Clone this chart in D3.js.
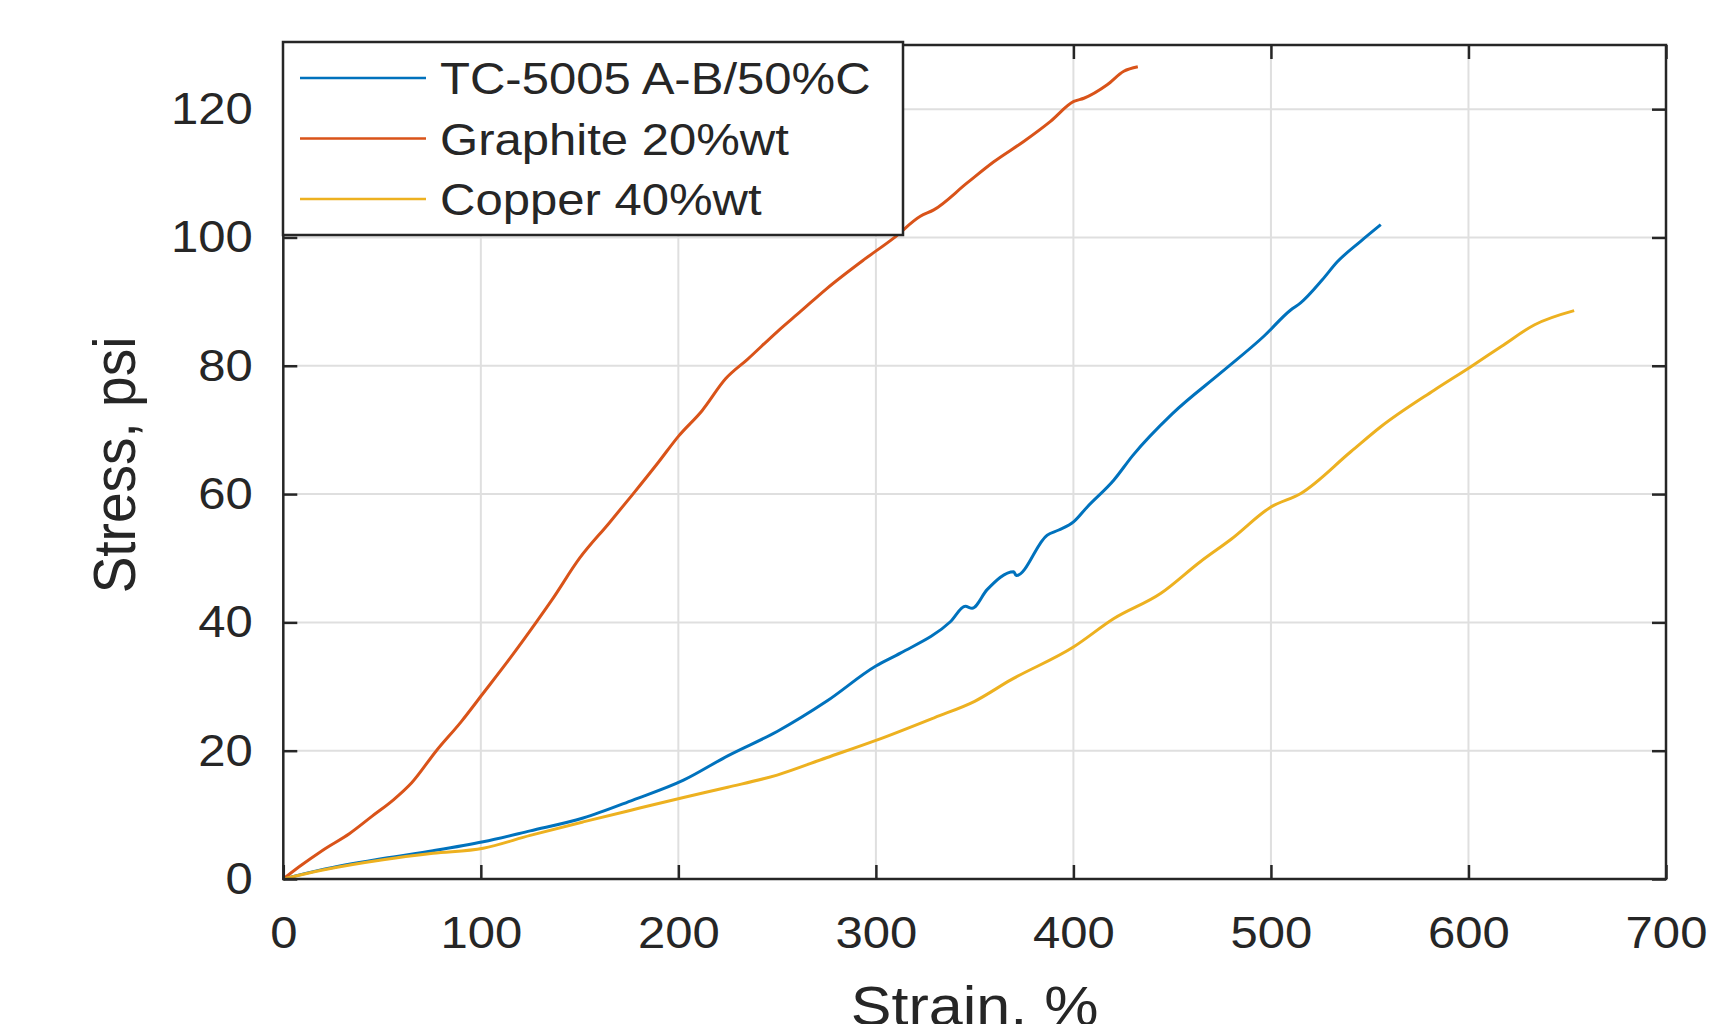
<!DOCTYPE html>
<meta charset="UTF-8">
<style>
  body { margin: 0; background: #fff; }
  text { font-family: "Liberation Sans", Arial, sans-serif; fill: #262626; }
</style>
<svg width="1717" height="1024"></svg>
<script src="https://d3js.org/d3.v7.min.js"></script>
<script>
  // strain (%) / stress (psi)
  const tcStrain = [0, 20, 50.5, 75.8, 101.2, 125, 151.8, 177, 202.6, 225, 250, 275, 300, 312.4, 337.7, 345.3, 348.7, 356.3, 369.8, 371, 386.7, 392.6, 400.2, 407, 420.5, 430, 450, 475, 496.4, 510, 515, 526, 533.6, 545.4, 555.6];
  const tcStress = [0, 1.5, 3.2, 4.4, 5.8, 7.5, 9.5, 12.3, 15.4, 19.2, 23, 27.7, 33.2, 35.2, 40.1, 42.5, 42.2, 45.1, 47.9, 47.3, 53.6, 54.4, 55.7, 58, 62.2, 66, 72.5, 79, 84.6, 88.7, 89.8, 93.4, 96.2, 99.4, 102];

  const grStrain = [0, 8, 20, 33.6, 45, 55.6, 65, 77.5, 90, 100.8, 115, 128, 136, 150, 165, 177, 190, 200, 212, 224, 235, 250, 262, 275, 293.8, 309, 322.5, 329.3, 346.2, 359.7, 375, 388.4, 400.2, 405.3, 417.1, 425.5, 432.6];
  const grStress = [0, 1.9, 4.5, 7.1, 9.8, 12.3, 15, 20, 24.5, 28.8, 34.5, 40, 43.5, 50, 55.5, 60, 65, 69, 73, 78, 81, 85.3, 88.5, 92, 96.5, 99.9, 103.3, 104.3, 108.5, 111.8, 115, 118.1, 121.2, 121.7, 123.8, 125.9, 126.6];

  const cuStrain = [0, 20, 50.5, 75.8, 101.2, 125, 151.8, 177, 202.6, 225, 250, 275, 300, 330, 350, 368.1, 400.2, 420.5, 444.1, 464.4, 480, 500, 515.1, 540.4, 555.6, 582.6, 601.4, 616.6, 633.5, 653.5];
  const cuStress = [0, 1.4, 3.0, 4.0, 4.8, 6.8, 8.9, 10.8, 12.7, 14.3, 16.2, 18.9, 21.6, 25.2, 27.7, 31, 36.2, 40.6, 44.5, 49.5, 53, 58, 60.1, 66.6, 70.5, 76.2, 79.9, 83, 86.4, 88.6];

  const seriesNames = ['TC-5005 A-B/50%C', 'Graphite 20%wt', 'Copper 40%wt'];
  const seriesColors = ['#0072BD', '#D95319', '#EDB120'];
  const xTicks = [0, 100, 200, 300, 400, 500, 600, 700];
  const yTicks = [0, 20, 40, 60, 80, 100, 120];

  const series = [
    d3.zip(tcStrain, tcStress),
    d3.zip(grStrain, grStress),
    d3.zip(cuStrain, cuStress),
  ];

  const LEFT = 283.3, TOP = 45, RIGHT = 1666, BOTTOM = 879;
  const STRETCH = 1.09;  // text in the picture is a bit wide

  const svg = d3.select('svg');
  const x = d3.scaleLinear().domain([0, 700]).range([LEFT, RIGHT]);
  const y = d3.scaleLinear().domain([0, 130]).range([BOTTOM, TOP]);

  // grid
  svg.append('g')
    .selectAll('line.gx')
    .data(xTicks.slice(1, -1))
    .join('line')
      .attr('x1', d => x(d)).attr('x2', d => x(d))
      .attr('y1', TOP).attr('y2', BOTTOM)
      .attr('stroke', '#dfdfdf').attr('stroke-width', 2);
  svg.append('g')
    .selectAll('line.gy')
    .data(yTicks.slice(1))
    .join('line')
      .attr('x1', LEFT).attr('x2', RIGHT)
      .attr('y1', d => y(d)).attr('y2', d => y(d))
      .attr('stroke', '#dfdfdf').attr('stroke-width', 2);

  // series
  const line = d3.line()
    .x(d => x(d[0]))
    .y(d => y(d[1]))
    .curve(d3.curveMonotoneX);
  svg.append('g')
    .selectAll('path')
    .data(series)
    .join('path')
      .attr('d', line)
      .attr('fill', 'none')
      .attr('stroke', (_, i) => seriesColors[i])
      .attr('stroke-width', 3)
      .attr('stroke-linejoin', 'round');

  // axes, ticks inward on all four sides
  const styleAxis = (g) => {
    g.select('.domain').remove();
    g.selectAll('.tick line').attr('stroke', '#262626').attr('stroke-width', 2.5);
    g.selectAll('.tick text')
      .attr('fill', '#262626')
      .style('font-size', '45px')
      .attr('transform', `scale(${STRETCH},1)`);
  };

  svg.append('g')
    .attr('transform', `translate(0,${BOTTOM})`)
    .call(d3.axisBottom(x).tickValues(xTicks).tickSizeInner(-14).tickSizeOuter(0).tickPadding(37))
    .call(styleAxis)
    .attr('font-family', null);
  svg.append('g')
    .attr('transform', `translate(0,${TOP})`)
    .call(d3.axisTop(x).tickValues(xTicks).tickSizeInner(-14).tickSizeOuter(0).tickFormat(''))
    .call(styleAxis);
  svg.append('g')
    .attr('transform', `translate(${LEFT},0)`)
    .call(d3.axisLeft(y).tickValues(yTicks).tickSizeInner(-14).tickSizeOuter(0).tickPadding(28))
    .call(styleAxis)
    .attr('font-family', null);
  svg.append('g')
    .attr('transform', `translate(${RIGHT},0)`)
    .call(d3.axisRight(y).tickValues(yTicks).tickSizeInner(-14).tickSizeOuter(0).tickFormat(''))
    .call(styleAxis);

  svg.append('rect')
    .attr('x', LEFT).attr('y', TOP)
    .attr('width', RIGHT - LEFT).attr('height', BOTTOM - TOP)
    .attr('fill', 'none').attr('stroke', '#262626').attr('stroke-width', 2.5);

  // axis labels (x label runs off the bottom edge, as in the original)
  svg.append('text')
    .attr('transform', `translate(${(LEFT + RIGHT) / 2},1025) scale(${STRETCH},1)`)
    .attr('text-anchor', 'middle')
    .style('font-size', '56px')
    .text('Strain, %');
  svg.append('text')
    .attr('transform', `translate(135,465) scale(${STRETCH},1) rotate(-90)`)
    .attr('text-anchor', 'middle')
    .style('font-size', '55px')
    .text('Stress, psi');

  // legend
  const legend = svg.append('g');
  legend.append('rect')
    .attr('x', 283).attr('y', 42)
    .attr('width', 620).attr('height', 193)
    .attr('fill', '#fff').attr('stroke', '#262626').attr('stroke-width', 2.5);
  const rows = legend.selectAll('g.row')
    .data(seriesNames)
    .join('g')
      .attr('transform', (_, i) => `translate(0,${78 + i * 60.5})`);
  rows.append('line')
    .attr('x1', 300).attr('x2', 426)
    .attr('stroke', (_, i) => seriesColors[i])
    .attr('stroke-width', 2.5);
  rows.append('text')
    .attr('transform', `translate(440,16) scale(${STRETCH},1)`)
    .style('font-size', '45px')
    .text(d => d);
</script>
